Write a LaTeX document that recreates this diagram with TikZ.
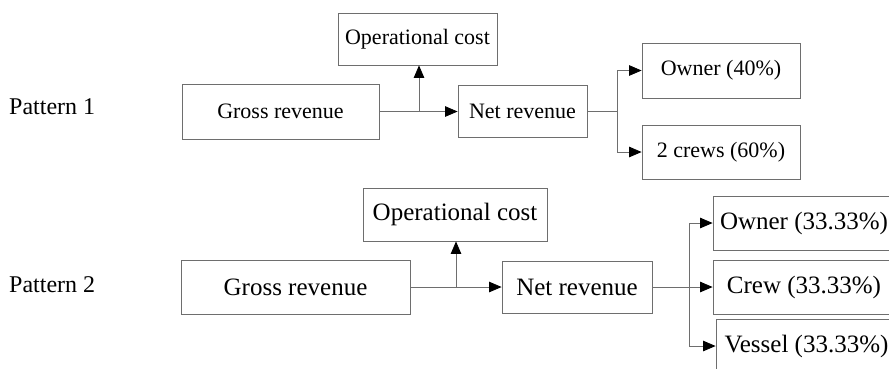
\documentclass[tikz,border=0pt]{standalone}
\usepackage{fontspec}
\setmainfont{Liberation Serif}
\usetikzlibrary{arrows.meta,positioning}
\definecolor{linegray}{RGB}{110,110,110}

\begin{document}
\begin{tikzpicture}[x=1pt,y=-1pt]

		\tikzstyle{box}=[draw=linegray,line width=0.8pt,inner sep=0pt,font=\fontsize{22}{26}\selectfont]
		\tikzstyle{bigbox}=[box,font=\fontsize{25}{30}\selectfont]
		\tikzstyle{link}=[draw=linegray,line width=0.8pt]
		\tikzstyle{flow}=[link,arrows={-Triangle[length=12.5pt,width=10.5pt,color=black]}]
		\tikzstyle{patlabel}=[font=\fontsize{24}{28}\selectfont,anchor=base west,inner sep=0pt]

		\useasboundingbox (0,0) rectangle (889,368);

		% pattern 1
		\node[patlabel] (patA) at (9,114) {Pattern 1};
		\node[box,minimum width=159pt,minimum height=52pt] (opA) at (417.5,39) {Operational cost};
		\node[box,minimum width=197pt,minimum height=55pt] (grossA) at (280.5,111.5) {Gross revenue};
		\node[box,minimum width=129pt,minimum height=52pt] (netA) at (522.5,111.5) {Net revenue};
		\node[box,minimum width=158pt,minimum height=55pt] (ownerA) at (721,70.5) {Owner (40\%)};
		\node[box,minimum width=158pt,minimum height=54pt] (crewsA) at (721,152) {2 crews (60\%)};
		\coordinate (jA) at (419,111.5);
		\coordinate (bA) at (617,111.5);

		\draw[flow] (grossA) -- (netA);
		\draw[flow] (jA) -- (jA |- opA.south);
		\draw[link] (netA.east) -- (bA);
		\draw[flow] (bA) |- (ownerA.west);
		\draw[flow] (bA) |- (crewsA.west);

		% pattern 2
		\node[patlabel] (patB) at (9,292) {Pattern 2};
		\node[bigbox,minimum width=184pt,minimum height=53pt] (opB) at (455,214.5) {Operational cost};
		\node[bigbox,minimum width=229pt,minimum height=54pt] (grossB) at (295.5,287) {Gross revenue};
		\node[bigbox,minimum width=150pt,minimum height=52pt] (netB) at (577,287) {Net revenue};
		\node[bigbox,minimum width=182pt,minimum height=54pt] (ownerB) at (804,223) {Owner (33.33\%)};
		\node[bigbox,minimum width=182pt,minimum height=54pt] (crewB) at (804,287) {Crew (33.33\%)};
		\node[bigbox,minimum width=181pt,minimum height=54pt] (vesselB) at (806.5,346) {Vessel (33.33\%)};
		\coordinate (jB) at (456,287);
		\coordinate (bB) at (689,287);

		\draw[flow] (grossB) -- (netB);
		\draw[flow] (jB) -- (jB |- opB.south);
		\draw[link] (netB.east) -- (bB);
		\draw[flow] (bB) |- (ownerB.west);
		\draw[flow] (bB) -- (crewB.west);
		\draw[flow] (bB) |- (vesselB.west);

\end{tikzpicture}
\end{document}
